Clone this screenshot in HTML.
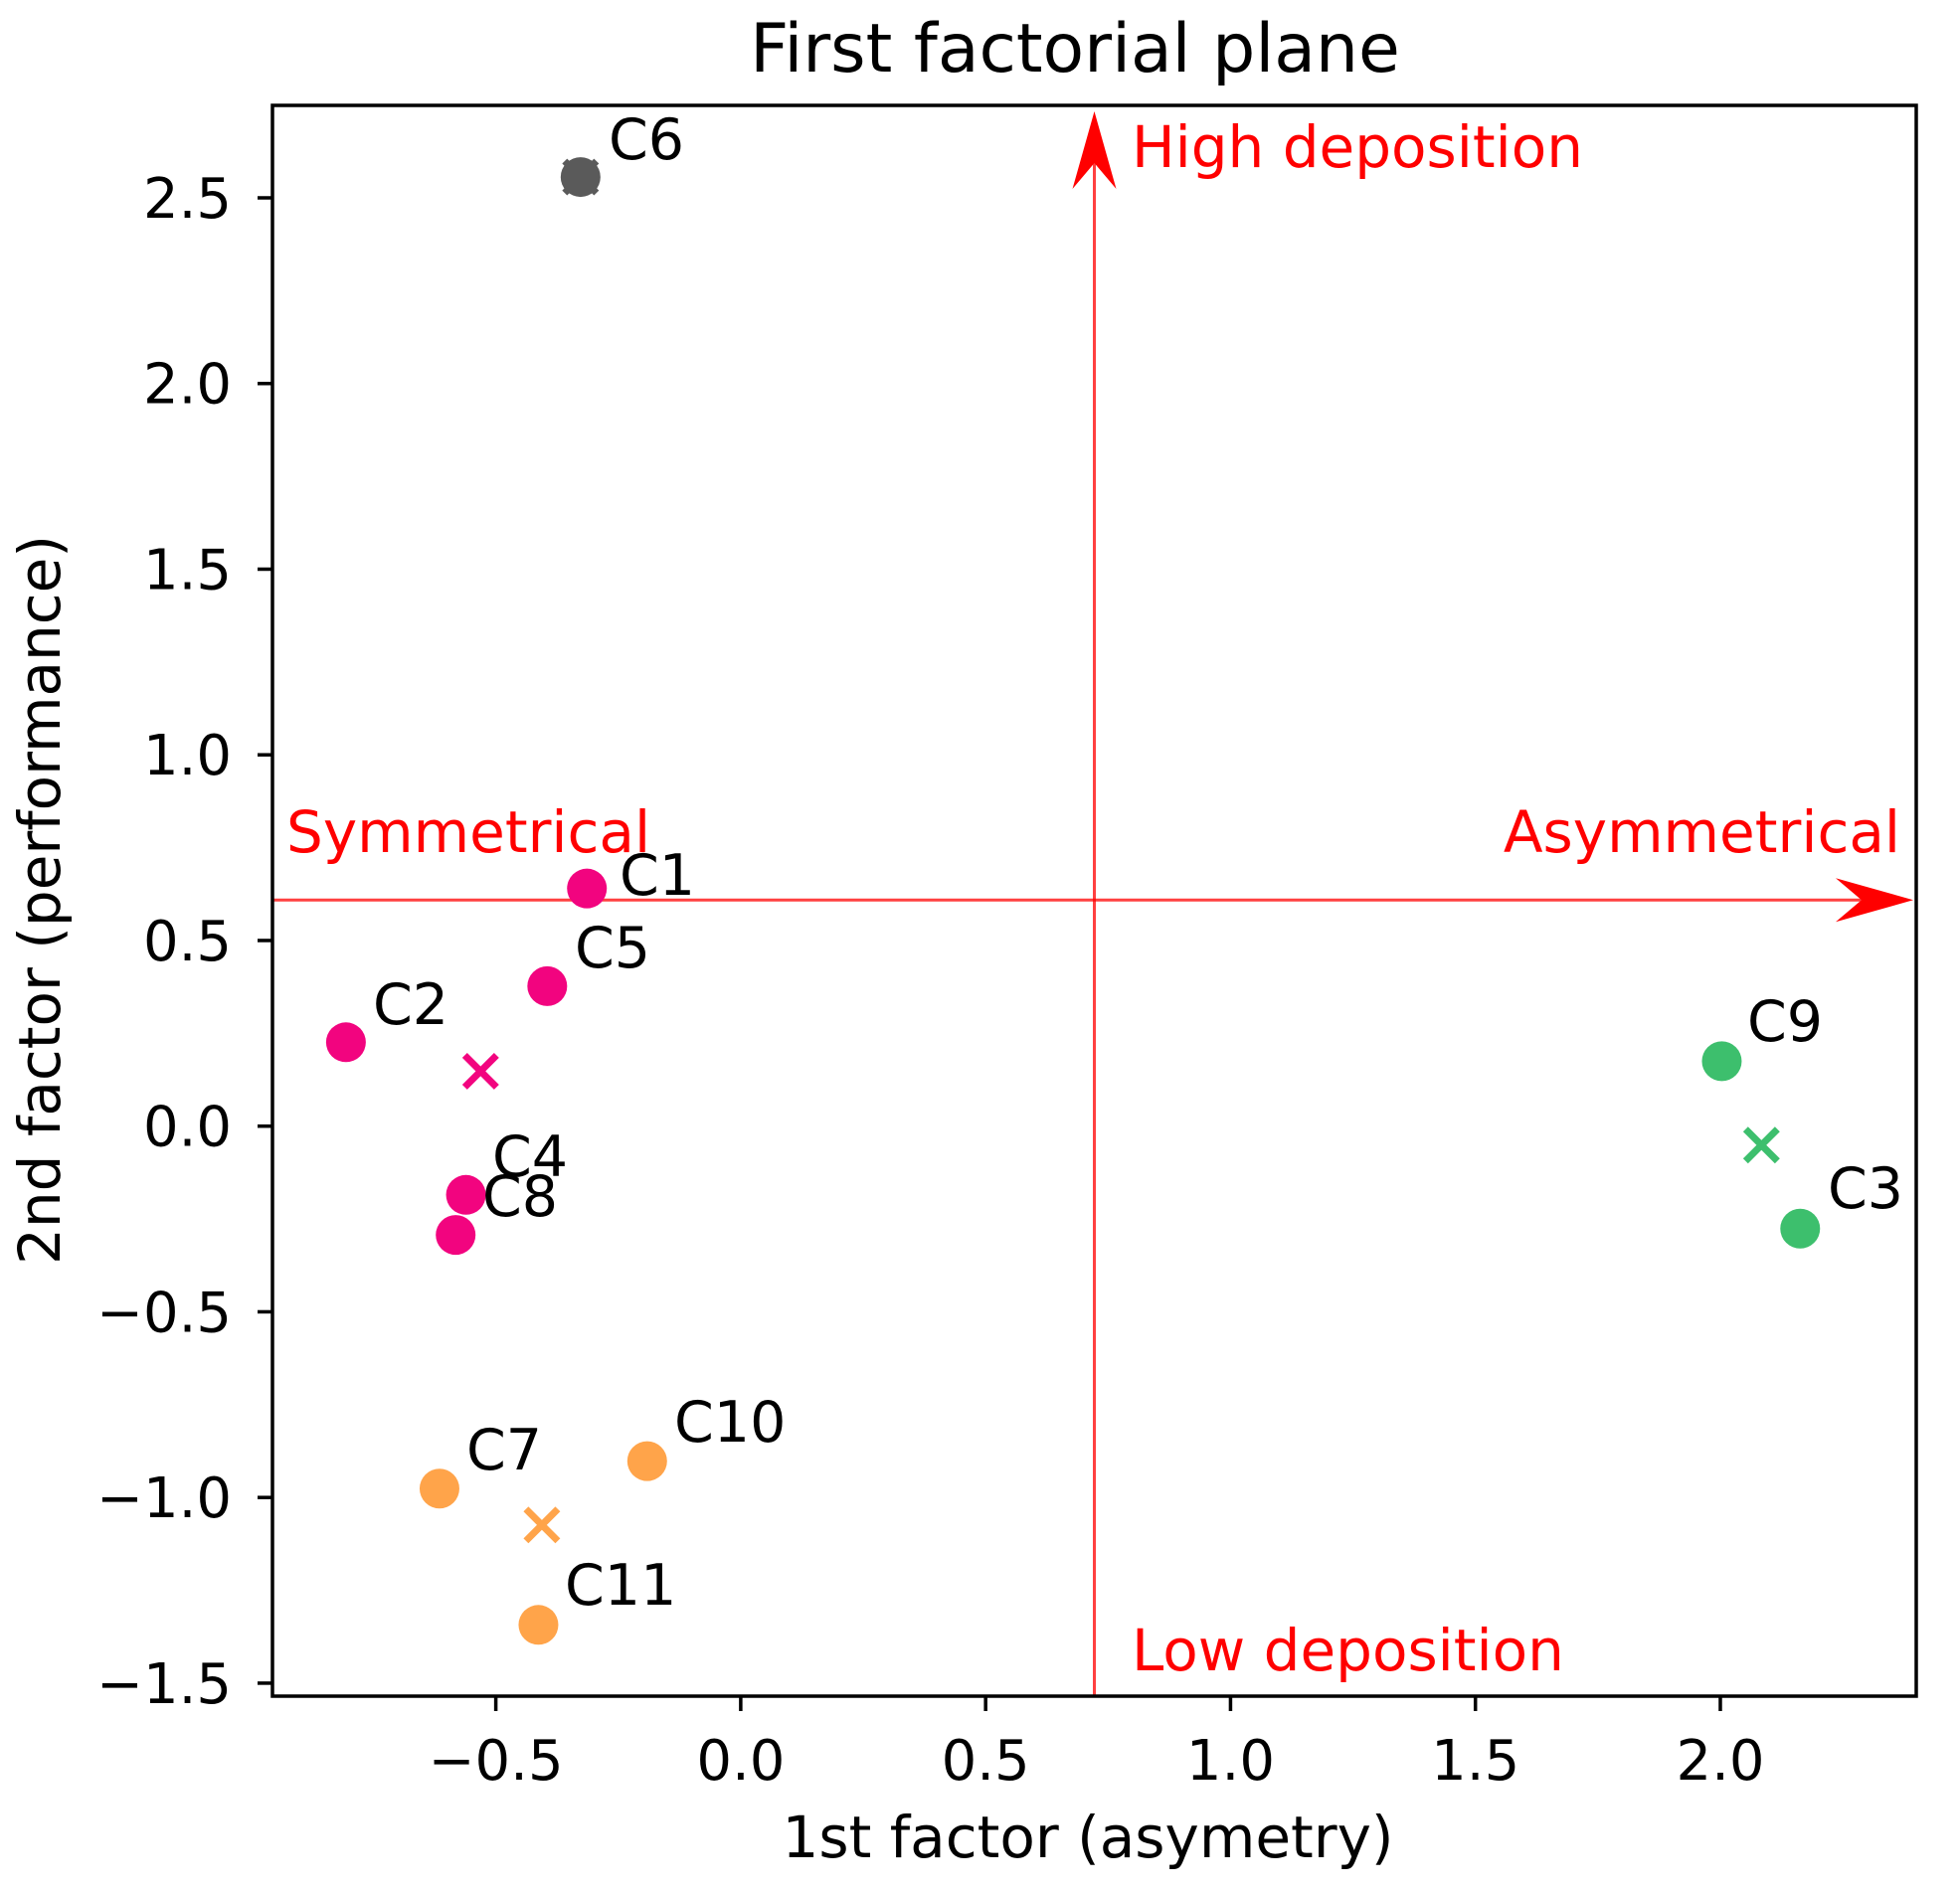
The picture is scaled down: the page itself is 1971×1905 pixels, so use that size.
<!DOCTYPE html>
<html><head><meta charset="utf-8"><style>
html,body{margin:0;padding:0;background:#fff;}
svg{display:block;font-family:"DejaVu Sans","Liberation Sans",sans-serif;}
</style></head><body>
<svg id="chart" width="1971" height="1905" viewBox="0 0 1971 1905" xmlns="http://www.w3.org/2000/svg"></svg>
<script>
const names = ["C6","C1","C5","C2","C4","C8","C9","C3","C7","C10","C11"];
const xVals = [-0.327,-0.314,-0.395,-0.806,-0.561,-0.582,2.003,2.163,-0.615,-0.191,-0.413];
const yVals = [2.556,0.640,0.377,0.226,-0.185,-0.293,0.175,-0.276,-0.976,-0.902,-1.343];
const groups = ["gray","pink","pink","pink","pink","pink","green","green","orange","orange","orange"];
const centroidGroups = ["pink","green","orange"];
const centroidX = [-0.531,2.084,-0.406];
const centroidY = [0.148,-0.051,-1.074];
const xTicks = [-0.5,0.0,0.5,1.0,1.5,2.0];
const xTickLabels = ["−0.5","0.0","0.5","1.0","1.5","2.0"];
const yTicks = [-1.5,-1.0,-0.5,0.0,0.5,1.0,1.5,2.0,2.5];
const yTickLabels = ["−1.5","−1.0","−0.5","0.0","0.5","1.0","1.5","2.0","2.5"];
const axisCross = [0.722,0.609];

const colors = {gray:"#5a5a5a",pink:"#f2047f",green:"#3dbf6d",orange:"#ffa44a"};
const L=274,R=1927,T=106,B=1706;
const X0=-0.956,X1=2.400,Y0=-1.535,Y1=2.749;
const sx=v=>L+(v-X0)/(X1-X0)*(R-L);
const sy=v=>B-(v-Y0)/(Y1-Y0)*(B-T);
const NS="http://www.w3.org/2000/svg";
const svg=document.getElementById('chart');
function mk(tag,attrs,parent){const e=document.createElementNS(NS,tag);for(const k in attrs)e.setAttribute(k,attrs[k]);(parent||svg).appendChild(e);return e;}

let t=mk('text',{x:1081,y:72,'text-anchor':'middle','font-size':68,fill:'#000'});t.textContent="First factorial plane";



const vx=sx(axisCross[0]), hy=sy(axisCross[1]);
let vl=mk('line',{x1:vx,y1:B,x2:vx,y2:T+40,stroke:'#ff0000','stroke-opacity':0.75,'stroke-width':3});


let va=mk('path',{d:`M${vx},${T+6} L${vx-22},${T+84} L${vx},${T+58} L${vx+22},${T+84} Z`,fill:'#ff0000'});


let hl=mk('line',{x1:L,y1:hy,x2:R-40,y2:hy,stroke:'#ff0000','stroke-opacity':0.75,'stroke-width':3});


let ha=mk('path',{d:`M${R-3},${hy} L${R-81},${hy-22} L${R-55},${hy} L${R-81},${hy+22} Z`,fill:'#ff0000'});



const redTexts=[["High deposition",1138,168,'start','high-deposition-label'],["Low deposition",1138,1680,'start','low-deposition-label'],["Symmetrical",288,857,'start','symmetrical-label'],["Asymmetrical",1911,857,'end','asymmetrical-label']];
redTexts.forEach(r=>{const e=mk('text',{x:r[1],y:r[2],'text-anchor':r[3],'font-size':58,fill:'#ff0000'});e.textContent=r[0];

});

const labelPos=[[612,160],[623,900],[578,973],[375,1030],[495,1183],[485,1223],[1757,1047],[1838,1215],[469,1478],[678,1450],[568,1614]];
names.forEach((n,i)=>{
  const c=mk('circle',{cx:sx(xVals[i]),cy:sy(yVals[i]),r:20,fill:colors[groups[i]]});
  
  
  const tx=mk('text',{x:labelPos[i][0],y:labelPos[i][1],'font-size':57,fill:'#000'});tx.textContent=n;
  
  
});
(function(){const cx=sx(xVals[0]),cy=sy(yVals[0]);const g=mk('path',{d:`M${cx-16},${cy-16}L${cx+16},${cy+16}M${cx-16},${cy+16}L${cx+16},${cy-16}`,stroke:'#5a5a5a','stroke-width':7});

})();
centroidGroups.forEach((g,i)=>{
  const cx=sx(centroidX[i]),cy=sy(centroidY[i]);
  const p=mk('path',{d:`M${cx-16},${cy-16}L${cx+16},${cy+16}M${cx-16},${cy+16}L${cx+16},${cy-16}`,stroke:colors[g],'stroke-width':7});
  
  
});

let fr=mk('rect',{x:L,y:T,width:R-L,height:B-T,fill:'none',stroke:'#000','stroke-width':3.5});



xTicks.forEach((v,i)=>{const x=sx(v);
  const l=mk('line',{x1:x,y1:B,x2:x,y2:B+15,stroke:'#000','stroke-width':3.5});
  
  
  const e=mk('text',{x:x,y:1790,'text-anchor':'middle','font-size':56,fill:'#000'});e.textContent=xTickLabels[i];
  
  });
yTicks.forEach((v,i)=>{const y=sy(v);
  const l=mk('line',{x1:L-15,y1:y,x2:L,y2:y,stroke:'#000','stroke-width':3.5});
  
  
  const e=mk('text',{x:233,y:y+20,'text-anchor':'end','font-size':56,fill:'#000'});e.textContent=yTickLabels[i];
  
  });

let xl=mk('text',{x:1094,y:1868,'text-anchor':'middle','font-size':58,fill:'#000'});xl.textContent="1st factor (asymetry)";


let yl=mk('text',{x:0,y:0,'text-anchor':'middle','font-size':58,fill:'#000',transform:'translate(60,905) rotate(-90)'});yl.textContent="2nd factor (performance)";


</script>
</body></html>
